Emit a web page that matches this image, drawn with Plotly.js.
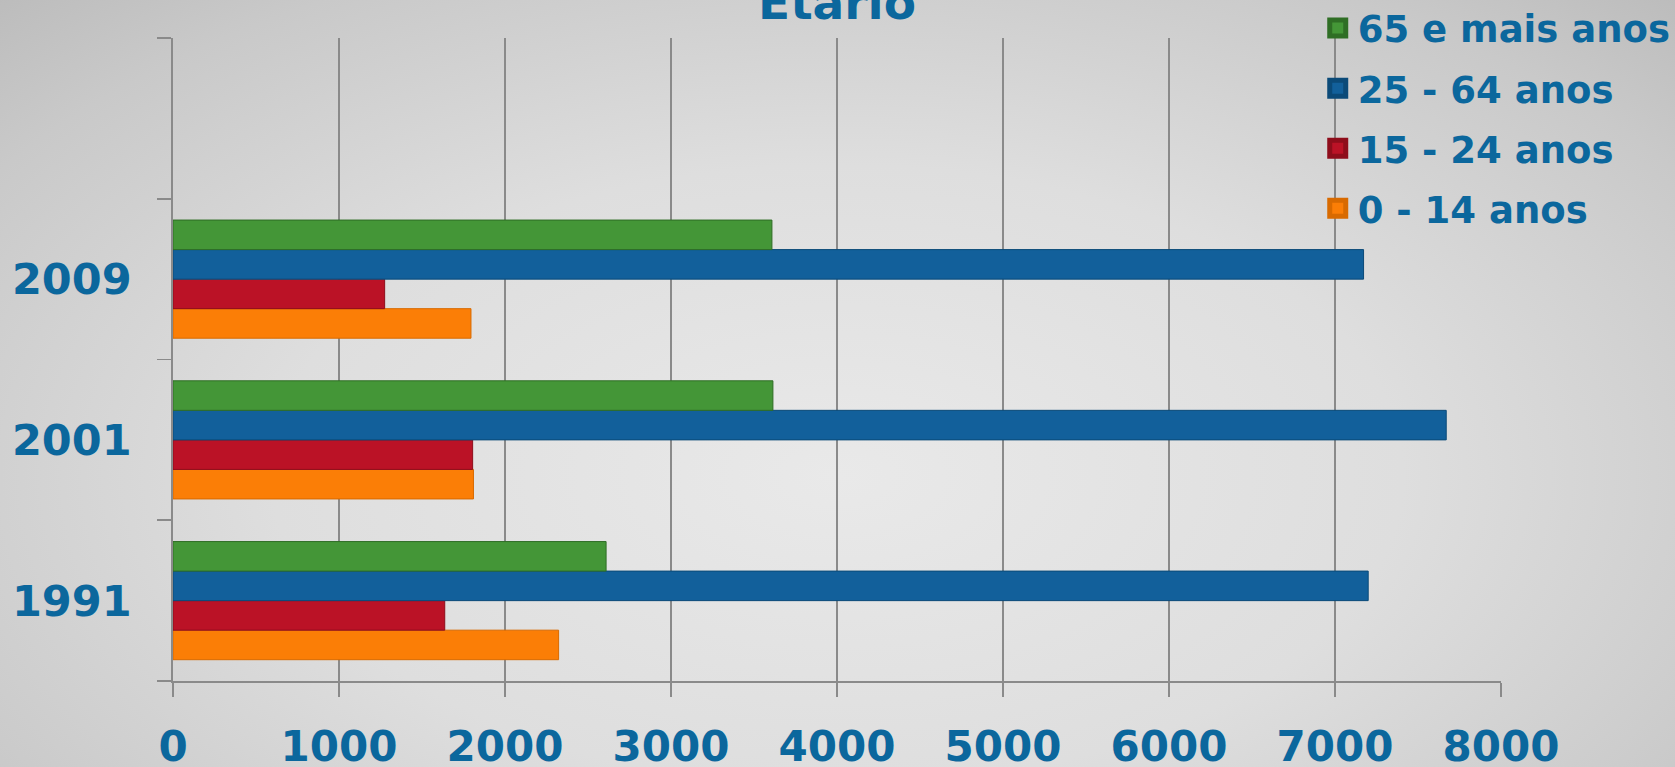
<!DOCTYPE html>
<html>
<head>
<meta charset="utf-8">
<script src="https://cdn.plot.ly/plotly-3.0.1.min.js"></script>
<style>
  html, body { margin: 0; padding: 0; }
  body {
    width: 1675px; height: 767px; overflow: hidden;
    background: radial-gradient(ellipse 75% 90% at 50% 62%, #e9e9e9 0%, #dedede 45%, #c9c9c9 80%, #b9b9b9 100%);
  }
  #grafico { width: 1675px; height: 767px; }
</style>
</head>
<body>
<div id="grafico"></div>
<script>
// dados
const anos = ['1991', '2001', '2009'];
const vazio = ' ';
const grupos = ['0 - 14 anos', '15 - 24 anos', '25 - 64 anos', '65 e mais anos'];
const v0a14 = [2323, 1810, 1795];
const v15a24 = [1637, 1805, 1275];
const v25a64 = [7200, 7670, 7172];
const v65mais = [2609, 3614, 3608];
const xTicks = [0, 1000, 2000, 3000, 4000, 5000, 6000, 7000, 8000];

const cores = ['#fb7e06', '#bb1226', '#12609b', '#449637'];
const bordas = ['#d86a00', '#8e0d1b', '#0b4a78', '#2f6e25'];
const valores = [v0a14, v15a24, v25a64, v65mais];

const azul = '#0b679d';
const fonte = 'DejaVu Sans, Verdana, sans-serif';

// barras (sem legenda)
const barras = grupos.map(function (g, i) {
  return {
    type: 'bar',
    orientation: 'h',
    name: g,
    y: anos,
    x: valores[i],
    showlegend: false,
    marker: { color: cores[i], line: { color: bordas[i], width: 1 } },
    hoverinfo: 'x+name'
  };
});

// entradas da legenda (quadrados maiores)
const legenda = grupos.map(function (g, i) {
  return {
    type: 'scatter',
    mode: 'markers',
    name: g,
    legendgroup: 'g' + i,
    legendrank: grupos.length - i,
    x: [null],
    y: [null],
    marker: { symbol: 'square', size: 16, color: cores[i], line: { color: bordas[i], width: 5 } }
  };
});

const layout = {
  width: 1675,
  height: 767,
  paper_bgcolor: 'rgba(0,0,0,0)',
  plot_bgcolor: 'rgba(0,0,0,0)',
  margin: { l: 173, r: 174, t: 38, b: 86, autoexpand: false },
  barmode: 'group',
  bargap: 0.265,
  bargroupgap: 0,
  title: {
    text: 'Etario',
    font: { family: fonte, size: 47, color: azul, weight: 'bold' },
    x: 0.4997, xanchor: 'center',
    y: 0.997, yanchor: 'middle', yref: 'container'
  },
  xaxis: {
    range: [0, 8000],
    tickmode: 'array',
    tickvals: xTicks,
    ticktext: xTicks.map(String),
    showgrid: true,
    gridcolor: '#8a8a8a',
    gridwidth: 1.8,
    zeroline: false,
    showline: true,
    linecolor: '#8a8a8a',
    linewidth: 1.8,
    ticks: 'outside',
    ticklen: 14,
    tickwidth: 1.8,
    tickcolor: '#8a8a8a',
    ticklabelstandoff: 14,
    tickfont: { family: fonte, size: 42, color: azul, weight: 'bold' },
    automargin: false,
    fixedrange: true
  },
  yaxis: {
    type: 'category',
    categoryorder: 'array',
    categoryarray: anos.concat([vazio]),
    range: [-0.5, 3.5],
    tickson: 'boundaries',
    ticks: 'outside',
    ticklen: 14,
    tickwidth: 1.8,
    tickcolor: '#8a8a8a',
    showline: true,
    linecolor: '#8a8a8a',
    linewidth: 1.8,
    showgrid: false,
    zeroline: false,
    ticklabelstandoff: 31,
    tickfont: { family: fonte, size: 43, color: azul, weight: 'bold' },
    automargin: false,
    fixedrange: true
  },
  showlegend: true,
  legend: {
    x: 0.862,
    xanchor: 'left',
    y: 1.063,
    yanchor: 'top',
    traceorder: 'grouped',
    tracegroupgap: 9,
    bgcolor: 'rgba(0,0,0,0)',
    font: { family: fonte, size: 37, color: azul, weight: 'bold' }
  }
};

Plotly.newPlot('grafico', barras.concat(legenda), layout, { displayModeBar: false, staticPlot: true });
</script>
</body>
</html>
